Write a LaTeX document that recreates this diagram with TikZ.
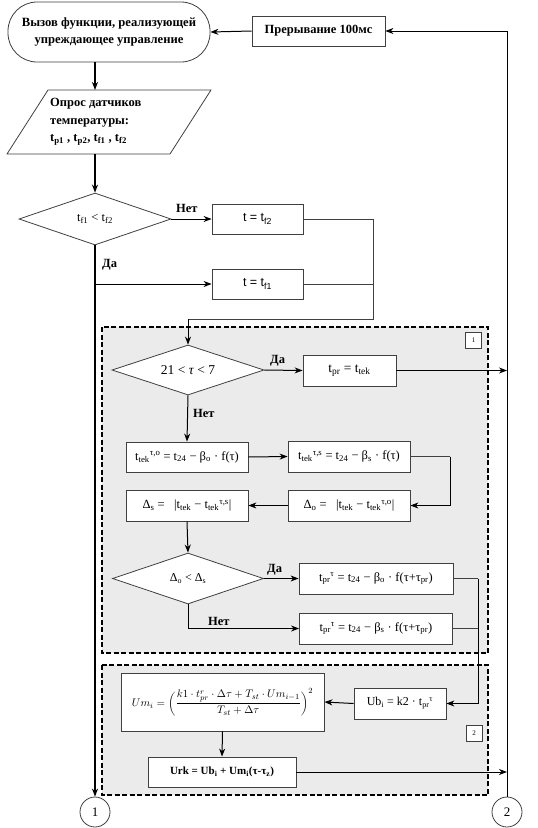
\documentclass[tikz,border=0pt]{standalone}
\usepackage{fontspec}
\setmainfont{Liberation Serif}
\newfontfamily\arialf{Liberation Sans}
\usetikzlibrary{shapes.geometric,arrows.meta}
\tikzset{
  box/.style={draw=black!75, fill=white, line width=0.8pt, inner sep=1pt, font=\fontsize{12.5}{14}\selectfont},
  dia/.style={diamond, draw=black!75, fill=white, line width=0.8pt, inner sep=0pt, aspect=3, font=\fontsize{12.5}{14}\selectfont},
  arr/.style={-{Stealth[length=8pt,width=6pt,inset=2.5pt]}, line width=1pt},
  thinl/.style={line width=0.8pt, draw=black!75},
  mainl/.style={line width=1.8pt},
  lab/.style={font=\bfseries\fontsize{12.5}{14}\selectfont, inner sep=0pt},
  region/.style={draw=black, fill=black!8, line width=1.3pt, dash pattern=on 5pt off 2.5pt},
  tag/.style={draw=black!75, fill=white, line width=0.6pt, minimum size=16pt, inner sep=0pt, font=\fontsize{7}{8}\selectfont},
  conn/.style={circle, draw=black!75, fill=white, line width=0.8pt, minimum size=30pt, inner sep=0pt, font=\fontsize{13}{15}\selectfont},
}
\begin{document}
\begin{tikzpicture}[x=1pt,y=-1pt]
\useasboundingbox (0,0) rectangle (538,828);
\fill[white] (0,0) rectangle (538,828);
% regions
\draw[region] (102,327) rectangle (488,653);
\draw[region] (102,665) rectangle (488,795);
\node[tag] (tag1) at (473.5,340) {1};
\node[tag] (tag2) at (474,733) {2};
% top
\node[box, rounded corners=29pt, minimum width=202pt, minimum height=60pt, align=center, font=\bfseries\fontsize{12.6}{17}\selectfont] (term) at (109,32) {Вызов функции, реализующей\\упреждающее управление};
\node[box, minimum width=133pt, minimum height=30pt, font=\bfseries\fontsize{12.5}{14}\selectfont] (intr) at (318.5,31) {Прерывание 100мс};
% parallelogram
\draw[thinl, fill=white] (48,90) -- (211,90) -- (170,154) -- (7,154) -- cycle;
\node[align=left, anchor=west, inner sep=0pt, font=\bfseries\fontsize{12.5}{17.5}\selectfont] (poll) at (50,122) {Опрос датчиков\\температуры:\\t\textsubscript{p1} , t\textsubscript{p2}, t\textsubscript{f1} , t\textsubscript{f2}};
\coordinate (pollN) at (95,90);
\coordinate (pollS) at (95,154);
% decision 1
\node[dia, minimum width=152pt, minimum height=52pt] (d1) at (95,219) {t\textsubscript{f1} \textless{} t\textsubscript{f2}};
\node[box, minimum width=91pt, minimum height=30pt, font=\arialf\fontsize{12.5}{14}\selectfont] (tf2) at (257.5,219) {t = t\textsubscript{f2}};
\node[box, minimum width=91pt, minimum height=30pt, font=\arialf\fontsize{12.5}{14}\selectfont] (tf1) at (257.5,284) {t = t\textsubscript{f1}};
% region 1 content
\node[dia, minimum width=152pt, minimum height=50pt, font=\fontsize{13.5}{15}\selectfont] (d2) at (188,370) {21 \textless{} \textit{τ} \textless{} 7};
\node[box, minimum width=93pt, minimum height=31pt, font=\fontsize{13.5}{15}\selectfont] (tpr) at (349.5,370.5) {t\textsubscript{pr} = t\textsubscript{tek}};
\node[box, minimum width=122pt, minimum height=30pt] (teko) at (187,457) {t\textsubscript{tek}\textsuperscript{τ,o} = t\textsubscript{24} − β\textsubscript{o} · f(τ)};
\node[box, minimum width=122pt, minimum height=31pt] (teks) at (349,456.5) {t\textsubscript{tek}\textsuperscript{τ,s} = t\textsubscript{24} − β\textsubscript{s} · f(τ)};
\node[box, minimum width=122pt, minimum height=31pt] (dlo) at (349,505.5) {Δ\textsubscript{o} = \enspace|t\textsubscript{tek} − t\textsubscript{tek}\textsuperscript{τ,o}|};
\node[box, minimum width=122pt, minimum height=31pt] (dls) at (187,505.5) {Δ\textsubscript{s} = \enspace|t\textsubscript{tek} − t\textsubscript{tek}\textsuperscript{τ,s}|};
\node[dia, minimum width=151pt, minimum height=51pt, font=\fontsize{12}{14}\selectfont] (d3) at (188,578.5) {Δ\textsubscript{o} \textless{} Δ\textsubscript{s}};
\node[box, minimum width=154pt, minimum height=31pt] (pro) at (376,578.5) {t\textsubscript{pr}\textsuperscript{τ} = t\textsubscript{24} − β\textsubscript{o} · f(τ+τ\textsubscript{pr})};
\node[box, minimum width=153pt, minimum height=31pt] (prs) at (376,628.5) {t\textsubscript{pr}\textsuperscript{τ} = t\textsubscript{24} − β\textsubscript{s} · f(τ+τ\textsubscript{pr})};
% region 2 content
\node[box, minimum width=203pt, minimum height=58pt, font=\fontsize{11}{13}\selectfont] (um) at (222.5,702) {$Um_i=\left(\displaystyle\frac{k1\cdot t^{r}_{pr}\cdot\Delta\tau+T_{st}\cdot Um_{i-1}}{T_{st}+\Delta\tau}\right)^{2}$};
\node[box, minimum width=92pt, minimum height=31pt, font=\fontsize{12}{14}\selectfont] (ub) at (400,703.5) {Ub\textsubscript{i} = k2 · t\textsubscript{pr}\textsuperscript{τ}};
\node[box, minimum width=148pt, minimum height=30pt, font=\bfseries\fontsize{11}{13}\selectfont] (urk) at (222,772) {Urk = Ub\textsubscript{i} + Um\textsubscript{i}(τ-τ\textsubscript{z})};
% connectors
\node[conn] (c1) at (95,812) {1};
\node[conn] (c2) at (507,812) {2};
\coordinate (rtop) at (507,31);
\draw[arr, mainl] (term.south -| pollN) -- (pollN);
\draw[arr, mainl] (pollS) -- (d1.north);
\draw[arr, mainl] (d1.south) -- (c1.north);
\draw[arr] (d1.east) -- (tf2.west);
\draw[arr] (d1.south |- tf1.west) -- (tf1.west);
\node[lab, anchor=south west] (net1) at (176,213) {Нет};
\node[lab, anchor=west] (da1) at (102,265) {Да};
\coordinate (m1) at (373,319);
\draw[thinl] (tf2.east) -- (tf2.east -| m1);
\draw[thinl] (tf1.east) -- (tf1.east -| m1);
\draw[thinl] (tf2.east -| m1) -- (m1) -- (m1 -| d2.north);
\draw[arr] (m1 -| d2.north) -- (d2.north);
\draw[arr] (d2.east) -- (tpr.west);
\node[lab, anchor=south west] (da2) at (270,366) {Да};
\draw[arr] (d2.south) -- (teko.north);
\node[lab, anchor=west] (net2) at (193,413) {Нет};
\draw[arr] (tpr.east) -- (tpr.east -| c2.north);
\draw[arr] (teko.east) -- (teks.west);
\coordinate (m2) at (450,0);
\draw[thinl] (teks.east) -- (teks.east -| m2);
\draw[arr] (teks.east -| m2) -- (dlo.east -| m2) -- (dlo.east);
\draw[arr] (dlo.west) -- (dls.east);
\draw[arr] (dls.south) -- (d3.north);
\draw[arr] (d3.east) -- (pro.west);
\node[lab, anchor=south west] (da3) at (267,575) {Да};
\draw[arr] (d3.south) -- (d3.south |- prs.west) -- (prs.west);
\node[lab, anchor=south west] (net3) at (208,626) {Нет};
\coordinate (m3) at (478,0);
\draw[thinl] (pro.east) -- (pro.east -| m3);
\draw[thinl] (prs.east) -- (prs.east -| m3);
\draw[arr] (pro.east -| m3) -- (ub.east -| m3) -- (ub.east);
\draw[arr] (ub.west) -- (um.east);
\draw[arr] (um.south) -- (urk.north);
\draw[arr] (urk.east) -- (urk.east -| c2.north);
\draw[arr, line width=0.9pt] (c2.north) -- (rtop) -- (intr.east);
\draw[arr] (intr.west) -- (term.east);
\end{tikzpicture}
\end{document}
